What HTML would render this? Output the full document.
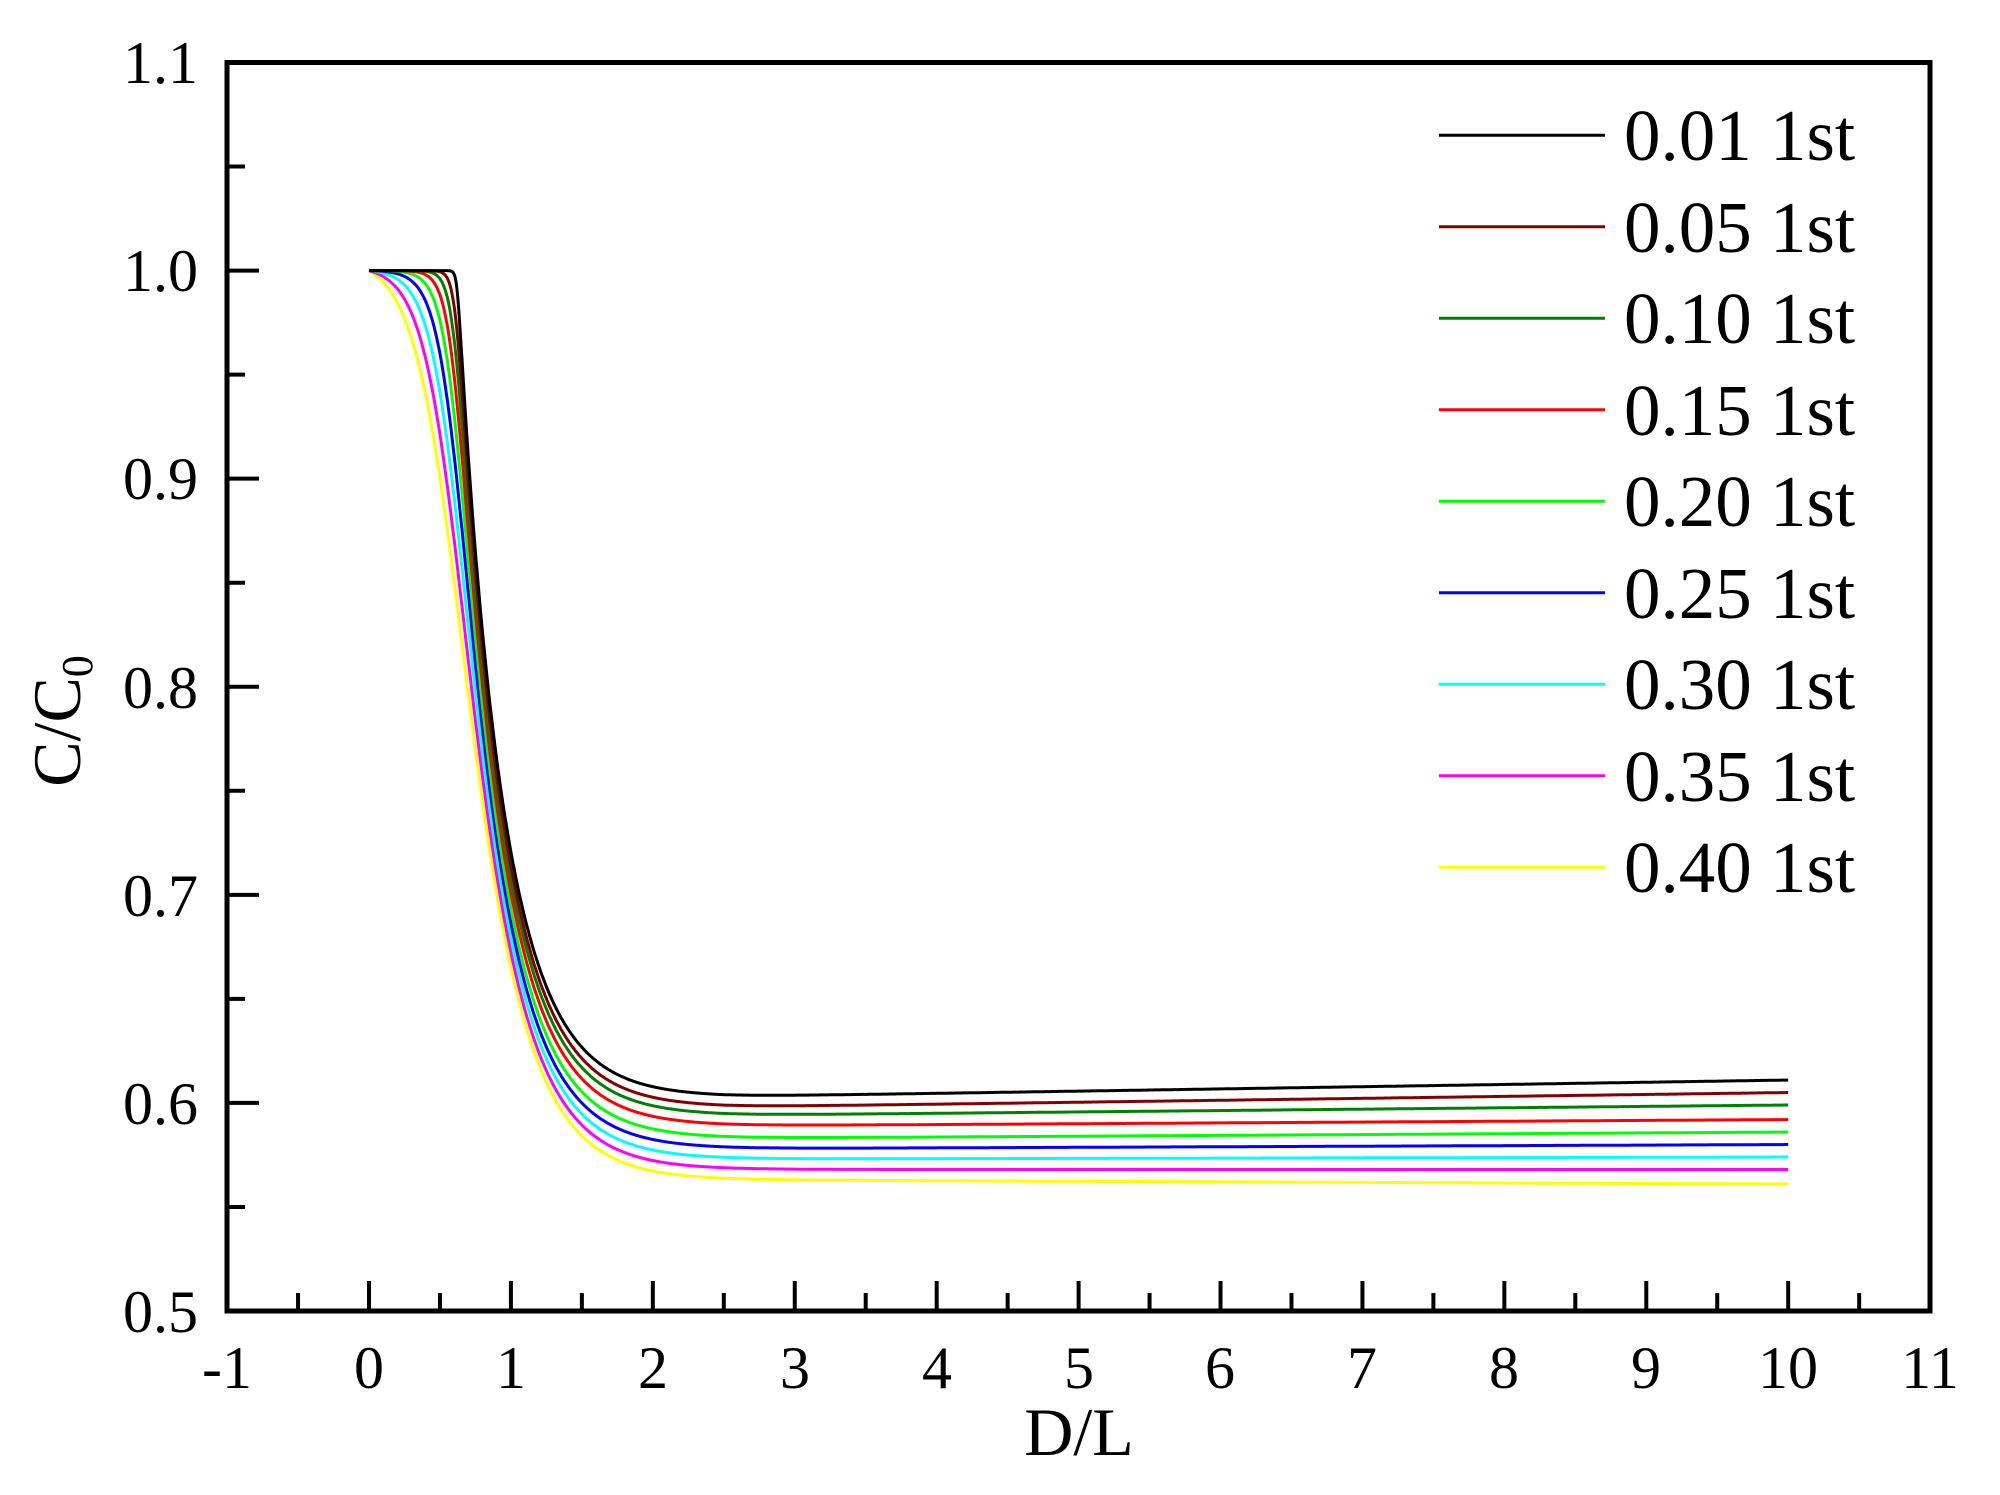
<!DOCTYPE html>
<html><head><meta charset="utf-8"><style>
html,body{margin:0;padding:0;background:#fff;}
svg{display:block;font-family:"Liberation Serif",serif;}
</style></head><body>
<svg id="s" width="2000" height="1495" viewBox="0 0 2000 1495" xmlns="http://www.w3.org/2000/svg">
<rect width="2000" height="1495" fill="#fff"/>
<g id="curves" fill="none" stroke-width="3" stroke-linejoin="round"></g>
<g id="ticks" stroke="#000" stroke-width="4"></g>
<rect x="227" y="62.5" width="1703" height="1248.5" fill="none" stroke="#000" stroke-width="5"/>
<g font-size="60" text-anchor="middle" fill="#000">
<text x="227" y="1388">-1</text><text x="369" y="1388">0</text><text x="511" y="1388">1</text>
<text x="653" y="1388">2</text><text x="795" y="1388">3</text><text x="937" y="1388">4</text>
<text x="1079" y="1388">5</text><text x="1220" y="1388">6</text><text x="1362" y="1388">7</text>
<text x="1504" y="1388">8</text><text x="1646" y="1388">9</text><text x="1788" y="1388">10</text>
<text x="1930" y="1388">11</text>
</g>
<g font-size="60" text-anchor="end" fill="#000">
<text x="198" y="1332">0.5</text><text x="198" y="1124">0.6</text><text x="198" y="916">0.7</text>
<text x="198" y="708">0.8</text><text x="198" y="499">0.9</text><text x="198" y="291">1.0</text>
<text x="198" y="83">1.1</text>
</g>
<text x="1079" y="1455" font-size="68" text-anchor="middle">D/L</text>
<text transform="translate(80,721) rotate(-90)" font-size="68" text-anchor="middle">C/C<tspan font-size="44" dy="12">0</tspan></text>
<g id="legend" font-size="73" fill="#000">
<text x="1624" y="160">0.01 1st</text><text x="1624" y="252">0.05 1st</text>
<text x="1624" y="343">0.10 1st</text><text x="1624" y="435">0.15 1st</text>
<text x="1624" y="526">0.20 1st</text><text x="1624" y="618">0.25 1st</text>
<text x="1624" y="709">0.30 1st</text><text x="1624" y="801">0.35 1st</text>
<text x="1624" y="892">0.40 1st</text>
</g>
<g id="leglines" stroke-width="3"></g>
</svg>
<script>
var cols=["#000000","#800000","#008000","#ff0000","#00ff00","#0000ff","#00ffff","#ff00ff","#ffff00"];
var p3=[0.603,0.598,0.594,0.589,0.583,0.578,0.573,0.568,0.563];
var p10=[0.611,0.605,0.599,0.592,0.586,0.580,0.574,0.568,0.561];
function X(x){return 369+x*141.92;}
function Y(y){return 1311-(y-0.5)*2080.8;}
var ns="http://www.w3.org/2000/svg";
var g=document.getElementById("curves");
function uf(x,m,c){var T=Math.exp(-3.2*(x-c));return Math.pow(1+Math.pow(T,-m),-1/m);}
for(var i=8;i>=0;i--){
  var t=i/8,d="";
  var m=Math.exp(Math.log(30)+(Math.log(2)-Math.log(30))*Math.pow(t,0.5));
  var c=0.62+(0.55-0.62)*t;
  var u0=uf(0,m,c);
  for(var k=0;k<=2000;k++){
    var x=k*0.005;
    var u=Math.min(1,uf(x,m,c)/u0);
    var p=p3[i]+Math.max(0,x-2.5)*(p10[i]-p3[i])/7.5;
    var y=p+(1-p)*u;
    d+=(k?"L":"M")+X(x).toFixed(1)+" "+Y(y).toFixed(1);
  }
  var pa=document.createElementNS(ns,"path");pa.setAttribute("d",d);pa.setAttribute("stroke",cols[i]);g.appendChild(pa);
}
var tk=document.getElementById("ticks"),st="";
for(var v=-1;v<=11;v+=0.5){var xx=X(v),L=(Math.abs(v-Math.round(v))<0.01)?30:18;st+="M"+xx+" 1311V"+(1311-L);}
for(var v=0.5;v<=1.1001;v+=0.05){var yy=Y(v),r=Math.round(v*100)%10==0;st+="M227 "+yy+"H"+(227+(r?32:18));}
var pt=document.createElementNS(ns,"path");pt.setAttribute("d",st);tk.appendChild(pt);
var ll=document.getElementById("leglines");
for(var i=0;i<9;i++){var yy=135.2+i*91.5;var l=document.createElementNS(ns,"line");
l.setAttribute("x1",1439);l.setAttribute("x2",1605);l.setAttribute("y1",yy);l.setAttribute("y2",yy);l.setAttribute("stroke",cols[i]);ll.appendChild(l);}
</script>
</body></html>
